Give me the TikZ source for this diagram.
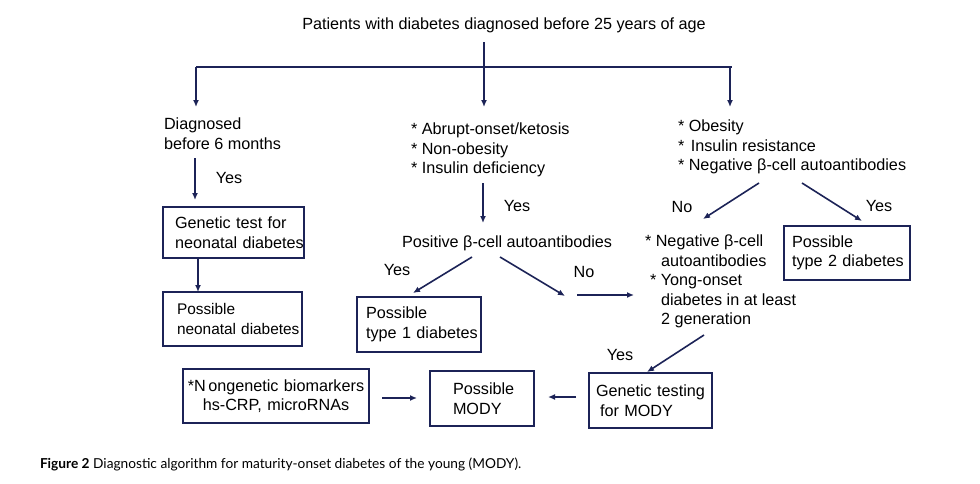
\documentclass[tikz,border=0pt]{standalone}
\usepackage{fontspec}
\setmainfont{Liberation Sans}
\newfontfamily\capfont{Lato}
\usetikzlibrary{arrows.meta}
\definecolor{navy}{HTML}{1C2357}
\newcommand\pd[1]{\hspace*{#1pt}}
\begin{document}
\begin{tikzpicture}[x=1pt,y=-1pt,
  every node/.style={inner sep=0pt, outer sep=0pt, font=\fontsize{16.2}{19.5}\selectfont, text=black},
  txt/.style={align=left, anchor=north west},
  lab/.style={anchor=center},
  box/.style={draw=navy, line width=1.6pt, align=left, inner xsep=0pt, inner ysep=0pt, anchor=north west},
  ln/.style={draw=navy, line width=1.6pt},
  arr/.style={draw=navy, line width=1.6pt, -{Latex[length=7pt,width=6pt]}}]
\useasboundingbox[fill=white] (0,0) rectangle (980,483);

% title and splitter
\node[anchor=north] (title) at (504,18) {Patients with diabetes diagnosed before 25 years of age};
\coordinate (stem) at (484,42);
\coordinate (split) at (484,67);
\coordinate (hl) at (196,67);
\coordinate (hr) at (730,67);
\coordinate (dl) at (196,107);
\coordinate (dm) at (484,107);
\coordinate (dr) at (730,107);
\draw[ln] (stem) -- (split);
\draw[ln] (hl) -- ([xshift=2pt]hr);
\draw[arr] (hl) -- (dl);
\draw[arr] (split) -- (dm);
\draw[arr] (hr) -- (dr);

% left column
\node[txt] (n6m) at (164,118) {Diagnosed\\before 6 months};
\coordinate (a1s) at (195,158);
\coordinate (a1e) at (195,200);
\draw[arr] (a1s) -- (a1e);
\node[lab] (y1) at (229,178) {Yes};
\node[box, text width=141pt, minimum height=51pt] (genbox) at (163,207) {\pd{12}Genetic test for\\\pd{12}neonatal diabetes};
\node[box, text width=139pt, minimum height=54pt, font=\fontsize{15.4}{19.5}\selectfont] (neobox) at (163,292) {\pd{14}Possible\\\pd{14}neonatal diabetes};
\draw[arr] ([xshift=35pt]genbox.south west) -- ([xshift=35pt]neobox.north west);

% middle column
\node[txt] (mid) at (411,123) {* Abrupt-onset/ketosis\\* Non-obesity\\* Insulin deficiency};
\coordinate (a2s) at (483,183);
\coordinate (a2e) at (483,223);
\draw[arr] (a2s) -- (a2e);
\node[lab] (y2) at (517,206) {Yes};
\node[txt] (pos) at (402,236) {Positive β-cell autoantibodies};
\node[box, text width=124pt, minimum height=55pt] (t1box) at (357,297) {\pd{9}Possible\\\pd{9}type 1 diabetes};
\coordinate (a3s) at (472,257);
\coordinate (a3e) at (413,293);
\draw[arr] (a3s) -- (a3e);
\node[lab] (y3) at (397,270) {Yes};
\coordinate (a4s) at (500,257);
\coordinate (a4e) at (565,296);
\draw[arr] (a4s) -- (a4e);
\node[lab] (no1) at (584,272) {No};
\coordinate (a5s) at (577,295);
\coordinate (a5e) at (634,295);
\draw[arr] (a5s) -- (a5e);

% right column
\node[txt] (right) at (678,120) {* Obesity\\*\hspace{2pt} Insulin resistance\\* Negative β-cell autoantibodies};
\coordinate (a6s) at (759,183);
\coordinate (a6e) at (703,219);
\draw[arr] (a6s) -- (a6e);
\node[lab] (no2) at (682,207) {No};
\coordinate (a7s) at (802,183);
\coordinate (a7e) at (862,221);
\draw[arr] (a7s) -- (a7e);
\node[lab] (y4) at (879,206) {Yes};
\node[box, text width=126pt, minimum height=54pt] (t2box) at (784,226) {\pd{8}Possible\\\pd{8}type 2 diabetes};
\node[txt] (neg) at (645,235) {* Negative β-cell\\\hspace*{16pt}autoantibodies\\\hspace*{5pt}* Yong-onset\\\hspace*{16pt}diabetes in at least\\\hspace*{16pt}2 generation};
\coordinate (a8s) at (704,335);
\coordinate (a8e) at (647,372);
\draw[arr] (a8s) -- (a8e);
\node[lab] (y5) at (620,355) {Yes};

% bottom row
\node[box, align=center, text width=186pt, minimum height=54pt] (nongen) at (183,369) {*N\hspace{2.5pt}ongenetic biomarkers\\hs-CRP, microRNAs};
\node[box, text width=104pt, minimum height=55pt] (mody) at (430,371) {\pd{23}Possible\\\pd{23}MODY};
\node[box, text width=123pt, minimum height=55pt] (genmody) at (589,373) {\pd{7}Genetic testing\\\pd{11}for MODY};
\coordinate (a9s) at (382,398);
\coordinate (a9e) at (417,398);
\draw[arr] (a9s) -- (a9e);
\coordinate (a10s) at (576,397);
\coordinate (a10e) at (548,397);
\draw[arr] (a10s) -- (a10e);

% caption
\node[anchor=base west, font=\capfont\fontsize{13.7}{16}\selectfont] (cap) at (40,468) {\textbf{Figure 2} Diagnostic algorithm for maturity-onset diabetes of the young (MODY).};
\end{tikzpicture}
\end{document}
